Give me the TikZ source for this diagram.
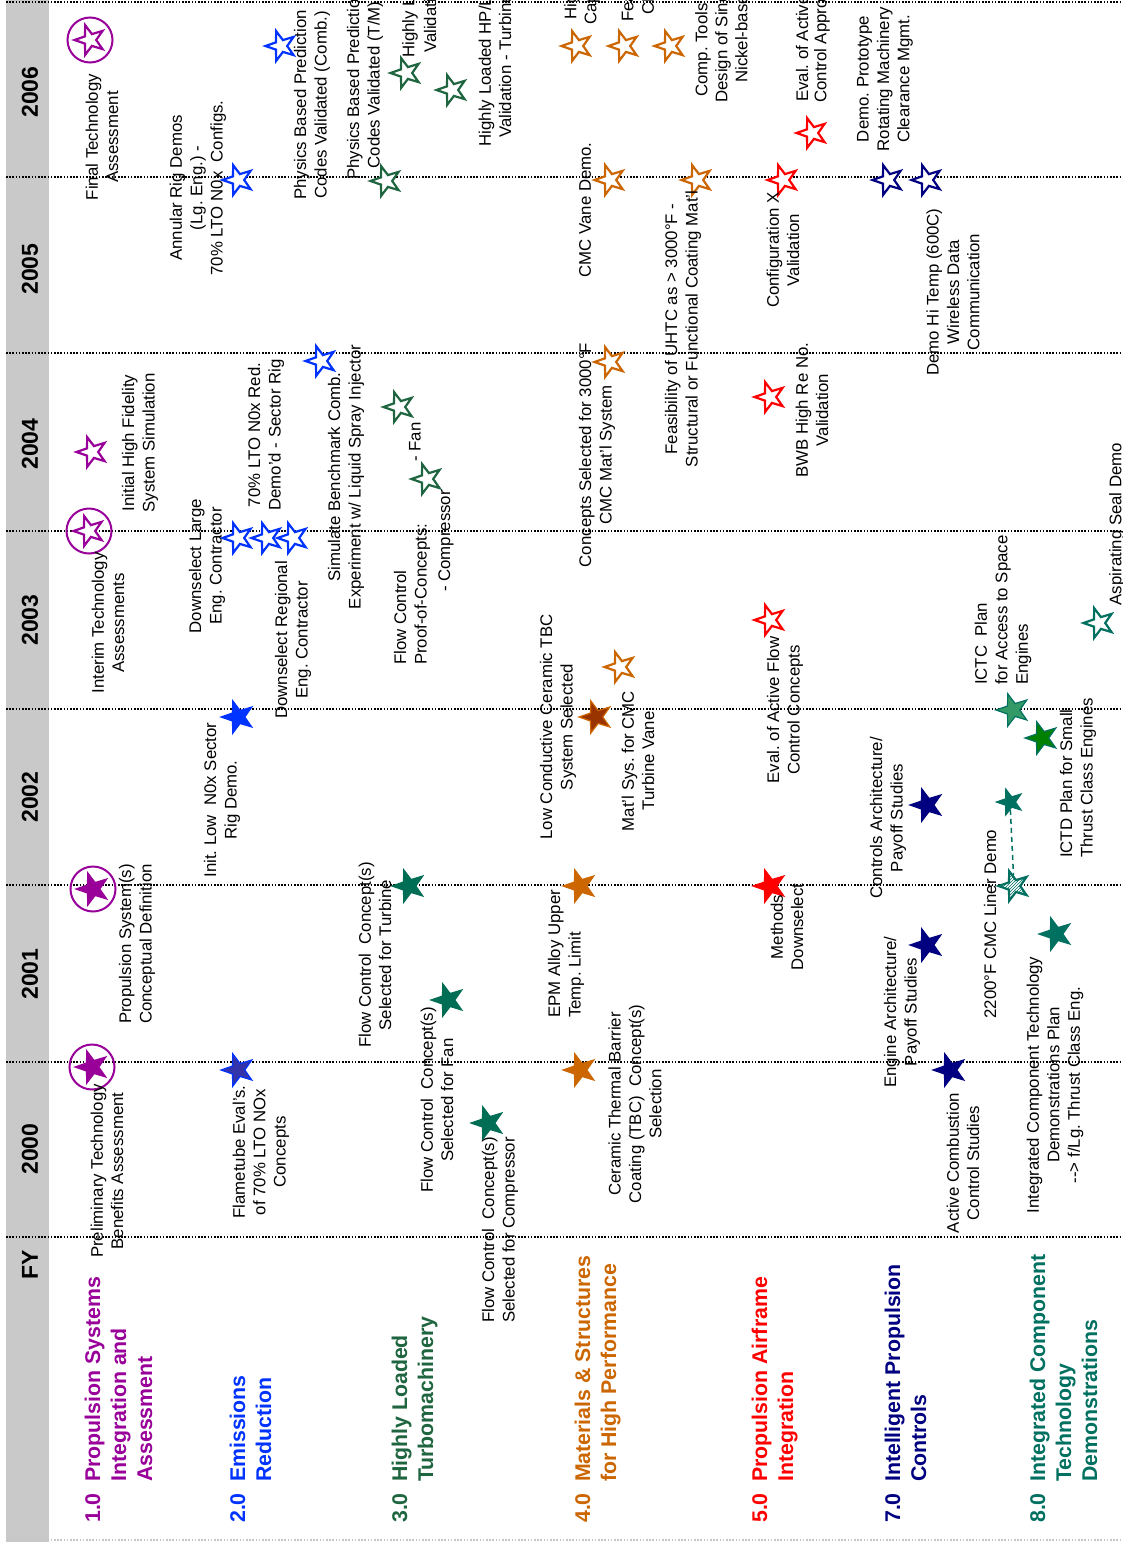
\documentclass[tikz,border=0pt]{standalone}
\usepackage{fontspec}
\setmainfont{Liberation Sans}
\usetikzlibrary{shapes.geometric,patterns}
\definecolor{cpurple}{RGB}{153,0,153}
\definecolor{cblue}{RGB}{0,51,255}
\definecolor{cbluef}{RGB}{51,51,170}
\definecolor{cgreen}{RGB}{31,102,64}
\definecolor{cgreenf}{RGB}{0,110,85}
\definecolor{corange}{RGB}{204,102,0}
\definecolor{cbrown}{RGB}{153,51,0}
\definecolor{cred}{RGB}{255,0,0}
\definecolor{cnavy}{RGB}{0,0,128}
\definecolor{cteal}{RGB}{0,112,96}
\definecolor{ctealmid}{RGB}{51,153,102}
\definecolor{cgreenpure}{RGB}{0,128,0}
\definecolor{cband}{RGB}{201,201,201}
\newcommand\mylblfont{\fontsize{16.8}{20.4}\selectfont}
\newcommand\myhdfont{\fontsize{21.3}{26}\selectfont\bfseries}
\newcommand\myyrfont{\fontsize{23}{26}\selectfont\bfseries}
\frenchspacing
\tikzset{
  lbl/.style={rotate=90, align=center, inner sep=0pt, font=\mylblfont},
  lbll/.style={rotate=90, align=left, anchor=west, inner sep=0pt, font=\mylblfont},
  hd/.style={rotate=90, anchor=west, inner sep=0pt, font=\myhdfont},
  yr/.style={rotate=90, inner sep=0pt, font=\myyrfont},
  starbase/.style={star, star points=5, star point ratio=2.5, inner sep=0pt, rotate=90},
  ostar/.style={starbase, minimum size=31pt, draw=#1, fill=white, line width=2.2pt},
  fstar/.style 2 args={starbase, minimum size=34pt, draw=#1, fill=#2, line width=1.2pt},
  ring/.style={circle, minimum size=45pt, inner sep=0pt, draw=cpurple, line width=2pt},
  sepline/.style={line width=1.5pt, dash pattern=on 1.5pt off 1.7pt},
}
\begin{document}
\begin{tikzpicture}[x=1pt,y=-1pt]
\useasboundingbox (0,0) rectangle (1123,1542);
\clip (0,0) rectangle (1123,1542);
\fill[white] (0,0) rectangle (1123,1542);
\fill[cband] (6,0) rectangle (49,1542);
\foreach \yy in {2,177,353,531,709,885,1062,1237}
  \draw[sepline] (6,\yy) -- (1123,\yy);
\draw[sepline, gray!45] (6,1540) -- (1123,1540);

% years
\node[yr] (yFY) at (30,1265) {FY};
\node[yr] (y2000) at (30,1149) {2000};
\node[yr] (y2001) at (30,974) {2001};
\node[yr] (y2002) at (30,797) {2002};
\node[yr] (y2003) at (30,620) {2003};
\node[yr] (y2004) at (30,444) {2004};
\node[yr] (y2005) at (30,269) {2005};
\node[yr] (y2006) at (30,92) {2006};

% headings
\node[hd, text=cpurple] (h1) at (121,1523) {\begin{tabular}{@{}l@{}l@{}}\makebox[41pt][l]{1.0}&Propulsion Systems\\&Integration and\\&Assessment\end{tabular}};
\node[hd, text=cblue] (h2) at (253,1523) {\begin{tabular}{@{}l@{}l@{}}\makebox[41pt][l]{2.0}&Emissions\\&Reduction\end{tabular}};
\node[hd, text=cgreen] (h3) at (415,1523) {\begin{tabular}{@{}l@{}l@{}}\makebox[41pt][l]{3.0}&Highly Loaded\\&Turbomachinery\end{tabular}};
\node[hd, text=corange] (h4) at (598,1523) {\begin{tabular}{@{}l@{}l@{}}\makebox[41pt][l]{4.0}&Materials \& Structures\\&for High Performance\end{tabular}};
\node[hd, text=cred] (h5) at (775,1523) {\begin{tabular}{@{}l@{}l@{}}\makebox[41pt][l]{5.0}&Propulsion Airframe\\&Integration\end{tabular}};
\node[hd, text=cnavy] (h7) at (908,1523) {\begin{tabular}{@{}l@{}l@{}}\makebox[41pt][l]{7.0}&Intelligent Propulsion\\&Controls\end{tabular}};
\node[hd, text=cteal] (h8) at (1066,1523) {\begin{tabular}{@{}l@{}l@{}}\makebox[41pt][l]{8.0}&Integrated Component\\&Technology\\&Demonstrations\end{tabular}};

% ---- 1.0 purple
\node[ring] (c1a) at (90,40) {};
\node[ostar=cpurple] (s1a) at (90,40) {};
\node[ostar=cpurple] (s1b) at (92,452) {};
\node[ring] (c1c) at (89,531) {};
\node[ostar=cpurple] (s1c) at (89,531) {};
\node[ring] (c1d) at (93,889) {};
\node[fstar={cpurple}{cpurple}] (s1d) at (93,889) {};
\node[ring] (c1e) at (92,1067) {};
\node[fstar={cpurple}{cpurple}] (s1e) at (92,1067) {};

% ---- 2.0 blue
\node[ostar=cblue] (s2a) at (281,46) {};
\node[ostar=cblue] (s2b) at (238,180) {};
\node[ostar=cblue] (s2c) at (321,361) {};
\node[ostar=cblue] (s2d) at (238,538) {};
\node[ostar=cblue] (s2e) at (267,538) {};
\node[ostar=cblue] (s2f) at (293,538) {};
\node[fstar={cblue}{cblue}] (s2g) at (238,717) {};
\node[fstar={cblue}{cbluef}] (s2h) at (238,1070) {};

% ---- 3.0 green
\node[ostar=cgreen] (s3a) at (406,73) {};
\node[ostar=cgreen] (s3b) at (452,90) {};
\node[ostar=cgreen] (s3c) at (386,181) {};
\node[ostar=cgreen] (s3d) at (399,407) {};
\node[ostar=cgreen] (s3e) at (427,479) {};
\node[fstar={cgreenf}{cgreenf}] (s3f) at (409,886) {};
\node[fstar={cgreenf}{cgreenf}] (s3g) at (448,1000) {};
\node[fstar={cgreenf}{cgreenf}] (s3h) at (488,1123) {};

% ---- 4.0 orange
\node[ostar=corange] (s4a) at (577,46) {};
\node[ostar=corange] (s4b) at (624,46) {};
\node[ostar=corange] (s4c) at (670,46) {};
\node[ostar=corange] (s4d) at (610,180) {};
\node[ostar=corange] (s4e) at (697,180) {};
\node[ostar=corange] (s4f) at (610,362) {};
\node[ostar=corange] (s4g) at (620,667) {};
\node[fstar={corange}{cbrown}] (s4h) at (596,717) {};
\node[fstar={corange}{corange}] (s4i) at (580,886) {};
\node[fstar={corange}{corange}] (s4j) at (580,1070) {};

% ---- 5.0 red
\node[ostar=cred] (s5a) at (812,133) {};
\node[ostar=cred] (s5b) at (783,180) {};
\node[ostar=cred] (s5c) at (770,397) {};
\node[ostar=cred] (s5d) at (770,620) {};
\node[fstar={cred}{cred}] (s5e) at (770,886) {};

% ---- 7.0 navy
\node[ostar=cnavy] (s7a) at (888,180) {};
\node[ostar=cnavy] (s7b) at (927,180) {};
\node[fstar={cnavy}{cnavy}] (s7c) at (927,805) {};
\node[fstar={cnavy}{cnavy}] (s7d) at (927,945) {};
\node[fstar={cnavy}{cnavy}] (s7e) at (950,1070) {};

% ---- 8.0 teal
\node[ostar=cteal] (s8a) at (1099,623) {};
\node[fstar={cteal}{ctealmid}] (s8b) at (1013,710) {};
\node[fstar={cteal}{cgreenpure}] (s8c) at (1042,738) {};
\node[fstar={cteal}{cteal}, minimum size=27pt] (s8d) at (1010,802) {};
\node[starbase, minimum size=31pt, draw=cteal, line width=2.2pt, preaction={fill=white}, pattern=north east lines, pattern color=cteal] (s8e) at (1014,886) {};
\node[fstar={cteal}{cteal}] (s8f) at (1056,934) {};
\draw[cteal, line width=1.5pt, dash pattern=on 5pt off 4pt] (s8d) -- (s8e);

% ---- labels 1.0
\node[lbl] (l1a) at (102,137) {Final Technology\\Assessment};
\node[lbl] (l1b) at (140,443) {Initial High Fidelity\\System Simulation};
\node[lbl] (l1c) at (108,623) {Interim Technology\\Assessments};
\node[lbl] (l1d) at (137,944) {Propulsion System(s)\\Conceptual Definition};
\node[lbl] (l1e) at (107,1171) {Preliminary Technology\\Benefits Assessment};

% ---- labels 2.0
\node[lbl] (l2a) at (312,105) {Physics Based Prediction\\Codes Validated (Comb.)};
\node[lbl] (l2b) at (198,188) {Annular Rig Demos\\(Lg. Eng.) -\\70\% LTO N0x\ \ Configs.};
\node[lbl] (l2c) at (266,435) {70\% LTO N0x Red.\\Demo'd - Sector Rig};
\node[lbl] (l2d) at (346,477) {Simulate Benchmark Comb.\\Experiment w/ Liquid Spray Injector};
\node[lbl] (l2e) at (207,566) {Downselect Large\\Eng. Contractor};
\node[lbl] (l2f) at (293,640) {Downselect Regional\\Eng. Contractor};
\node[lbl] (l2g) at (222,800) {Init. Low\ \ N0x Sector\\Rig Demo.};
\node[lbl] (l2h) at (261,1152) {Flametube Eval's.\\of 70\% LTO NOx\\Concepts};

% ---- labels 3.0
\node[lbl] (l3a) at (365,85) {Physics Based Prediction\\Codes Validated (T/M)};
\node[lbl, anchor=west] (l3b1) at (410,58) {Highly Loaded Fan};
\node[lbl, anchor=west] (l3b2) at (430,53) {Validation - Fan};
\node[lbl] (l3c) at (495,66) {Highly Loaded HP/LP\\Validation - Turbine};
\node[lbll] (l3d) at (412,665) {Flow Control\\Proof-of-Concepts:};
\node[lbl, anchor=west] (l3e) at (446,592) {- Compressor};
\node[lbl, anchor=west] (l3f) at (415,462) {- Fan};
\node[lbl] (l3g) at (375,955) {Flow Control\ \ Concept(s)\\Selected for Turbine};
\node[lbl] (l3h) at (437,1100) {Flow Control\ \ Concept(s)\\Selected for Fan};
\node[lbl] (l3i) at (500,1230) {Flow Control\ \ Concept(s)\\Selected for Compressor};

% ---- labels 4.0
\node[lbl, anchor=west] (l4a1) at (572,20) {High Temperature};
\node[lbl, anchor=west] (l4a2) at (592,25) {Capability};
\node[lbl, anchor=west] (l4b1) at (629,22) {Feasibility of};
\node[lbl, anchor=west] (l4b2) at (648,15) {CMC};
\node[lbl, anchor=west] (l4c1) at (703,97) {Comp. Tools for};
\node[lbl, anchor=west] (l4c2) at (723,103) {Design of Single Crystal};
\node[lbl, anchor=west] (l4c3) at (743,83) {Nickel-based Superalloys};
\node[lbl] (l4d) at (585,210) {CMC Vane Demo.};
\node[lbl] (l4e) at (683,329) {Feasibility of UHTC as > 3000°F -\\Structural or Functional Coating Mat'l};
\node[lbl] (l4f) at (597,455) {Concepts Selected for 3000°F\\CMC Mat'l System};
\node[lbl] (l4g) at (558,727) {Low Conductive Ceramic TBC\\System Selected};
\node[lbl] (l4h) at (638,761) {Mat'l Sys. for CMC\\Turbine Vane};
\node[lbll] (l4i) at (566,1018) {EPM Alloy Upper\\Temp. Limit};
\node[lbl] (l4j) at (635,1104) {Ceramic Thermal Barrier\\Coating (TBC)\ \ Concept(s)\\Selection};

% ---- labels 5.0
\node[lbl, anchor=west] (l5a1) at (802,102) {Eval. of Active Flow};
\node[lbl, anchor=west] (l5a2) at (822,103) {Control Approaches};
\node[lbl] (l5b) at (783,250) {Configuration X\\Validation};
\node[lbl] (l5c) at (812,410) {BWB High Re No.\\Validation};
\node[lbl] (l5d) at (785,710) {Eval. of Active Flow\\Control Concepts};
\node[lbl] (l5e) at (787,927) {Methods\\Downselect};

% ---- labels 7.0
\node[lbl] (l7a) at (885,79) {Demo. Prototype\\Rotating Machinery\\Clearance Mgmt.};
\node[lbl] (l7b) at (953,292) {Demo Hi Temp (600C)\\Wireless Data\\Communication};
\node[lbl] (l7c) at (888,818) {Controls Architecture/\\Payoff Studies};
\node[lbl] (l7d) at (902,1012) {Engine Architecture/\\Payoff Studies};
\node[lbl] (l7e) at (963,1163) {Active Combustion\\Control Studies};

% ---- labels 8.0
\node[lbl] (l8a) at (1117,524) {Aspirating Seal Demo};
\node[lbll] (l8b) at (1003,685) {ICTC\ \ Plan\\for Access to Space\\Engines};
\node[lbll] (l8c) at (1078,858) {ICTD Plan for Small\\Thrust Class Engines};
\node[lbl] (l8d) at (990,924) {2200°F CMC Liner Demo};
\node[lbl] (l8e) at (1055,1085) {Integrated Component Technology\\Demonstrations Plan\\-{}-> f/Lg. Thrust Class Eng.};
\end{tikzpicture}
\end{document}
